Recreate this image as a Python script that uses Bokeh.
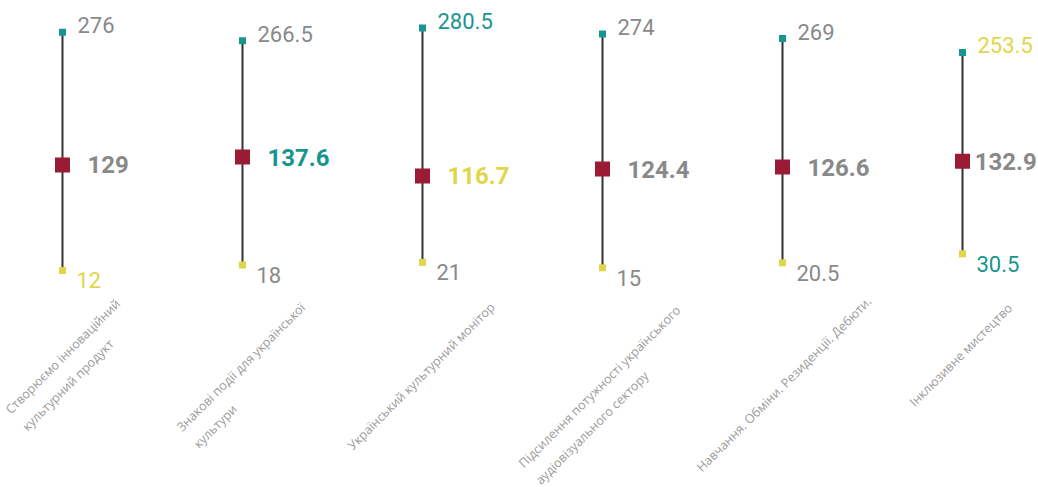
import math
from bokeh.plotting import figure
from bokeh.models import ColumnDataSource, Range1d
from bokeh.core.properties import value
from bokeh.embed import file_html
from bokeh.resources import INLINE

# ---- data ----
categories = [
    "Створюємо інноваційний\nкультурний продукт",
    "Знакові події для української\nкультури",
    "Український культурний монітор",
    "Підсилення потужності українського\nаудіовізуального сектору",
    "Навчання. Обміни. Резиденції. Дебюти.",
    "Інклюзивне мистецтво",
]
high = [276, 266.5, 280.5, 274, 269, 253.5]
mean = [129, 137.6, 116.7, 124.4, 126.6, 132.9]
low = [12, 18, 21, 15, 20.5, 30.5]

# ---- styles ----
TEAL = "#17958f"
YELLOW = "#e1d64a"
RED = "#9b1b34"
GREY = "#898989"
LABEL_GREY = "#9b9b9b"
LINE = "#333333"
CAT_FONT_SIZE = 12.5
W, H = 1038, 487
X0, X1 = -0.3444, 5.4222


def extreme_colors(vals):
    hi, lo = max(vals), min(vals)
    return [TEAL if v == hi else (YELLOW if v == lo else GREY) for v in vals]


def fmt(v):
    return f"{v:g}"


NARROW = set(" .,іїІ:;!")
WIDE = set("мшщюжфМШЩЮЖФ")


def est_width(s, size):
    w = 0.0
    for c in s:
        if c in NARROW:
            w += 0.27
        elif c in WIDE:
            w += 0.85
        else:
            w += 0.58
    return w * size


def num_width(s, size):
    return sum(0.27 if c == "." else 0.565 for c in s) * size


xs = list(range(len(categories)))

p = figure(width=W, height=H, output_backend="svg", toolbar_location=None,
           x_range=Range1d(X0, X1), y_range=Range1d(-228.4, 311.1),
           x_axis_type=None, y_axis_type=None, min_border=0)
p.grid.visible = False
p.outline_line_color = None
p.background_fill_color = "white"
p.border_fill_color = "white"

# whiskers
p.segment(x0=xs, y0=low, x1=xs, y1=high, line_color=LINE, line_width=2)
p.scatter(xs, high, marker="square", size=7, fill_color=TEAL, line_color=None)
p.scatter(xs, low, marker="square", size=7, fill_color=YELLOW, line_color=None)
p.scatter(xs, mean, marker="square", size=15, fill_color=RED, line_color=None)

# value labels
mean_text = [fmt(v) for v in mean]
px = [(i - X0) / (X1 - X0) * W for i in xs]
# justify labels that would run past the right edge
mean_xo = [min(25, W - 3 - x - num_width(t, 24)) for x, t in zip(px, mean_text)]

src_hi = ColumnDataSource(dict(x=xs, y=high, text=[fmt(v) for v in high], color=extreme_colors(high)))
src_lo = ColumnDataSource(dict(x=xs, y=low, text=[fmt(v) for v in low], color=extreme_colors(low)))
src_mn = ColumnDataSource(dict(x=xs, y=mean, text=mean_text, color=extreme_colors(mean), xo=mean_xo))

p.text("x", "y", text="text", source=src_hi, text_color="color", text_font=value("Roboto"),
       text_font_size="22px", x_offset=15, y_offset=-7, text_baseline="alphabetic")
p.text("x", "y", text="text", source=src_lo, text_color="color", text_font=value("Roboto"),
       text_font_size="22px", x_offset=14, y_offset=10, text_baseline="alphabetic")
p.text("x", "y", text="text", source=src_mn, text_color="color", text_font=value("Roboto"),
       text_font_size="24px", text_font_style="bold", x_offset="xo", y_offset=0,
       text_baseline="alphabetic")

# rotated category labels
widths = [max(est_width(line, CAT_FONT_SIZE) for line in c.split("\n")) for c in categories]
cat_src = ColumnDataSource(dict(
    x=xs, y=[0] * len(xs), text=categories,
    xo=[0 - 0.354 * (w + 17) for w in widths],
    yo=[15 + 0.707 * w for w in widths],
))
p.text("x", "y", text="text", source=cat_src, angle=math.pi / 4, text_align="left",
       text_baseline="top", x_offset="xo", y_offset="yo", text_font=value("Open Sans"),
       text_font_size=f"{CAT_FONT_SIZE}px", text_color=LABEL_GREY, text_line_height=1.4)

open("out.html", "w").write(file_html(p, INLINE))
